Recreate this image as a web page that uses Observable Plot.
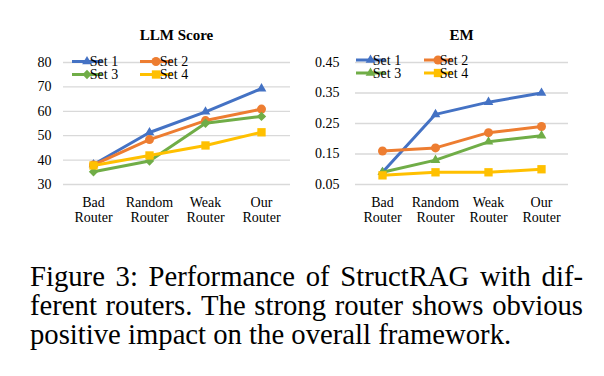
<!DOCTYPE html>
<html><head><meta charset="utf-8">
<script src="https://cdn.jsdelivr.net/npm/d3@7"></script>
<script src="https://cdn.jsdelivr.net/npm/@observablehq/plot@0.6"></script>
<style>
body{margin:0;background:#fff;width:604px;height:376px;position:relative;overflow:hidden;font-family:"Liberation Serif","Times New Roman",serif;color:#000;}
.panel{position:absolute;top:0;}
.title{position:absolute;top:27px;font-weight:bold;font-size:15px;text-align:center;}
#caption{position:absolute;left:30px;top:262px;width:553px;font-size:28.7px;line-height:29.2px;}
#caption .j{display:flex;justify-content:space-between;white-space:nowrap;}
#caption .l{white-space:nowrap;}
</style></head>
<body>
<div id="c1" class="panel" style="left:0"></div>
<div id="c2" class="panel" style="left:300px"></div>
<div class="title" style="left:63px;width:227px">LLM Score</div>
<div class="title" style="left:355px;width:213px">EM</div>
<div id="caption"></div>
<script>
const routers = ["Bad Router", "Random Router", "Weak Router", "Our Router"];
const routerLabels = ["Bad\nRouter", "Random\nRouter", "Weak\nRouter", "Our\nRouter"];
const seriesNames = ["Set 1", "Set 2", "Set 3", "Set 4"];
const seriesColors = ["#4472C4", "#ED7D31", "#70AD47", "#FFC000"];

const llmSet1 = [38.2, 51.3, 59.8, 69.3];
const llmSet2 = [38.0, 48.4, 56.2, 60.9];
const llmSet3 = [35.2, 39.6, 55.1, 57.9];
const llmSet4 = [37.8, 41.9, 46.0, 51.4];
const llmTicks = [30, 40, 50, 60, 70, 80];
const llmSymbols = ["triangle", "circle", "diamond2", "square"];

const emSet1 = [0.09, 0.28, 0.32, 0.35];
const emSet2 = [0.16, 0.17, 0.22, 0.24];
const emSet3 = [0.09, 0.13, 0.19, 0.21];
const emSet4 = [0.08, 0.09, 0.09, 0.10];
const emTicks = [0.05, 0.15, 0.25, 0.35, 0.45];
const emSymbols = ["triangle", "circle", "triangle", "square"];

const captionLines = [
  "Figure 3: Performance of StructRAG with dif-",
  "ferent routers. The strong router shows obvious",
  "positive impact on the overall framework."
];

// caption: first two lines justified, last line left-aligned
const cap = document.getElementById("caption");
captionLines.forEach((line, i) => {
  const div = document.createElement("div");
  if (i < captionLines.length - 1) {
    div.className = "j";
    line.split(" ").forEach(w => { const s = document.createElement("span"); s.textContent = w; div.appendChild(s); });
  } else {
    div.className = "l";
    div.textContent = line;
  }
  cap.appendChild(div);
});

function toRows(sets) {
  return sets.map((vals, i) => vals.map((v, j) => ({series: seriesNames[i], router: routers[j], value: v})));
}

const symMap = {triangle: d3.symbolTriangle, circle: d3.symbolCircle, diamond2: d3.symbolDiamond2, square: d3.symbolSquare};
const symR = {triangle: 3.6, circle: 4.5, diamond2: 4.2, square: 4.7};

function makePanel(el, cfg) {
  const groups = toRows(cfg.sets);
  const seriesMarks = groups.flatMap((rows, i) => [
    Plot.line(rows, {x: "router", y: "value", stroke: seriesColors[i], strokeWidth: 3}),
    Plot.dot(rows, {x: "router", y: "value", fill: seriesColors[i], symbol: cfg.symbols[i], r: symR[cfg.symbols[i]]})
  ]);
  const chart = Plot.plot({
    width: cfg.width, height: 240,
    marginLeft: cfg.ml, marginRight: cfg.mr, marginTop: 62, marginBottom: 56,
    style: {fontFamily: "'Liberation Serif', 'Times New Roman', serif", background: "transparent", color: "#000", overflow: "visible"},
    x: {type: "point", domain: routers, padding: 0.5},
    y: {domain: cfg.domain},
    marks: [
      Plot.gridY(cfg.ticks, {stroke: "#d9d9d9", strokeOpacity: 1, strokeWidth: 1.3}),
      Plot.axisY(cfg.ticks, {tickSize: 0, tickPadding: cfg.tp, fontSize: 14, label: null, tickFormat: cfg.fmt}),
      Plot.axisX({tickSize: 0, tickPadding: 11, fontSize: 14, label: null, lineHeight: 1.12,
        tickFormat: d => routerLabels[routers.indexOf(d)]}),
      ...seriesMarks
    ]
  });
  el.appendChild(chart);
  // legend
  const svg = d3.select(chart);
  const g = svg.append("g").attr("font-family", "'Liberation Serif', 'Times New Roman', serif").attr("font-size", 14);
  seriesNames.forEach((name, i) => {
    const col = i % 2, row = Math.floor(i / 2);
    const x0 = cfg.legX[col], x1 = cfg.legX2[col], y = cfg.legY[row];
    const sym = cfg.symbols[i];
    g.append("line").attr("x1", x0).attr("x2", x1).attr("y1", y).attr("y2", y)
      .attr("stroke", seriesColors[i]).attr("stroke-width", 3);
    g.append("path").attr("d", d3.symbol(symMap[sym], Math.PI * symR[sym] * symR[sym])())
      .attr("transform", `translate(${(x0 + x1) / 2},${y})`).attr("fill", seriesColors[i]);
    g.append("text").attr("x", x1 + 2).attr("y", y).attr("dy", "0.35em").attr("fill", "#000").text(name);
  });
}

makePanel(document.getElementById("c1"), {
  width: 300, ml: 63, mr: 10, tp: 12, domain: [30, 80], ticks: llmTicks, fmt: d => String(d),
  sets: [llmSet1, llmSet2, llmSet3, llmSet4], symbols: llmSymbols,
  legX: [72, 140], legX2: [102, 172], legY: [61.5, 74.5]
});
makePanel(document.getElementById("c2"), {
  width: 304, ml: 55, mr: 36, tp: 16, domain: [0.05, 0.45], ticks: emTicks, fmt: d3.format(".2f"),
  sets: [emSet1, emSet2, emSet3, emSet4], symbols: emSymbols,
  legX: [56, 124], legX2: [85, 152], legY: [60, 73]
});
</script>
</body></html>
